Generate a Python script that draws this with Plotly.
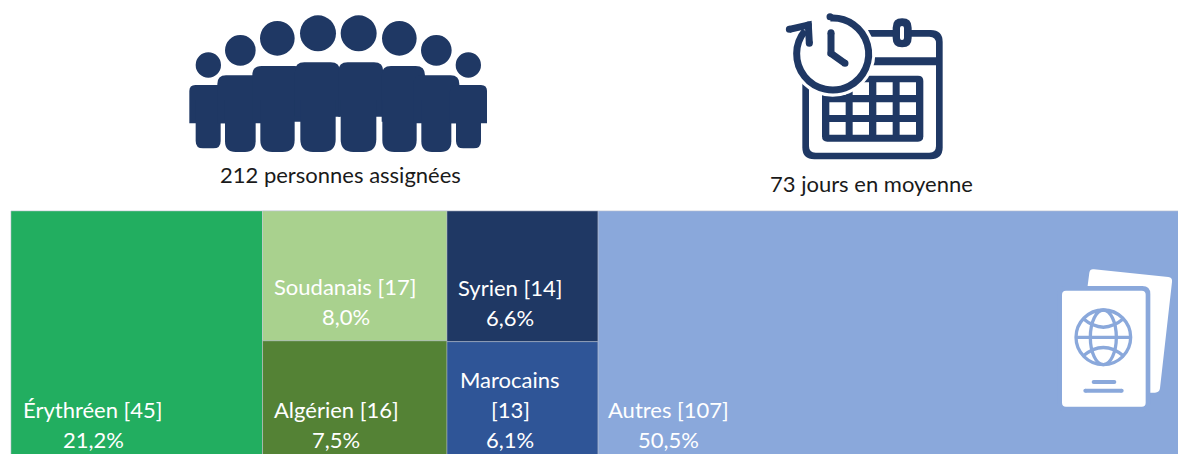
import math
import plotly.graph_objects as go

# ---- data ----
nationalities = ["Érythréen", "Soudanais", "Algérien", "Syrien", "Marocains", "Autres"]
counts = [45, 17, 16, 14, 13, 107]
percents = ["21,2%", "8,0%", "7,5%", "6,6%", "6,1%", "50,5%"]
colors = ["#22AE60", "#A9D18E", "#548235", "#1F3864", "#2F5597", "#8AA8DB"]
total_people = 212
mean_days = 73

NAVY = "#1F3864"
BLUE = "#8AA8DB"
W, H = 1196, 463      # the chart runs a little past the window, as in the reference
L, T = 11, 211

def X(px): return (px - L) / (W - L)
def Y(py): return (H - py) / (H - T)

# ---- treemap: columns are left to right; two columns hold a stacked pair ----
g1 = counts[1] + counts[2]
g2 = counts[3] + counts[4]
ids = ["root", nationalities[0], "g1", "g2", nationalities[5],
       nationalities[1], nationalities[2], nationalities[3], nationalities[4]]
tree_parents = ["", "root", "root", "root", "root", "g1", "g1", "g2", "g2"]
tree_values = [sum(counts), counts[0], g1, g2, counts[5], counts[1], counts[2], counts[3], counts[4]]
tree_colors = ["#FFFFFF", colors[0], "#FFFFFF", "#FFFFFF", colors[5], colors[1], colors[2], colors[3], colors[4]]

fig = go.Figure(go.Treemap(
    ids=ids,
    labels=[i if i in nationalities else "" for i in ids],
    parents=tree_parents,
    values=tree_values,
    branchvalues="total",
    sort=False,
    textinfo="none",
    hoverinfo="skip",
    marker=dict(colors=tree_colors,
                line=dict(color="rgba(190,198,210,0.45)", width=1),
                pad=dict(t=0, l=0, r=0, b=0)),
    tiling=dict(packing="slice-dice", pad=0),
    pathbar=dict(visible=False),
    root=dict(color="#FFFFFF"),
))

shapes = []

def P(x, y, ox, oy, s):
    return f"{X(ox + x / s):.5f} {Y(oy + y / s):.5f}"

def rrect(x0, y0, x1, y1, rt, rb, ox, oy, s=3):
    """rounded rectangle path in zoomed pixel coordinates"""
    p = lambda a, b: P(a, b, ox, oy, s)
    return (f"M{p(x0 + rt, y0)} L{p(x1 - rt, y0)} Q{p(x1, y0)} {p(x1, y0 + rt)} "
            f"L{p(x1, y1 - rb)} Q{p(x1, y1)} {p(x1 - rb, y1)} "
            f"L{p(x0 + rb, y1)} Q{p(x0, y1)} {p(x0, y1 - rb)} "
            f"L{p(x0, y0 + rt)} Q{p(x0, y0)} {p(x0 + rt, y0)} Z")

def fill(path, color):
    shapes.append(dict(type="path", xref="paper", yref="paper", path=path,
                       fillcolor=color, line=dict(width=0), layer="above"))

def ellipse(cx, cy, rx, ry, color, ox, oy, s=3, line=None, lw=0):
    shapes.append(dict(type="circle", xref="paper", yref="paper",
                       x0=X(ox + (cx - rx) / s), x1=X(ox + (cx + rx) / s),
                       y0=Y(oy + (cy - ry) / s), y1=Y(oy + (cy + ry) / s),
                       fillcolor=color,
                       line=dict(width=lw, color=line or "rgba(0,0,0,0)"), layer="above"))

def circle(cx, cy, r, color, ox, oy, s=3):
    ellipse(cx, cy, r, r, color, ox, oy, s)

def stroke(path, color, lw):
    shapes.append(dict(type="path", xref="paper", yref="paper", path=path,
                       line=dict(color=color, width=lw), layer="above"))

def poly(points, color, lw, ox, oy, s=3):
    """round capped polyline"""
    stroke("M" + " L".join(P(a, b, ox, oy, s) for a, b in points), color, lw)
    for a, b in points:
        circle(a, b, lw * s / 2, color, ox, oy, s)

def arc(cx, cy, r, a0, a1, color, lw, ox, oy, s=3, n=8):
    """circular arc from a0 to a1 (degrees, clockwise on screen) as cubic curves"""
    step = math.radians(a1 - a0) / n
    k = 4 / 3 * math.tan(step / 4)
    a = math.radians(a0)
    pts = f"M{P(cx + r * math.cos(a), cy + r * math.sin(a), ox, oy, s)}"
    for _ in range(n):
        b = a + step
        c1 = (cx + r * (math.cos(a) - k * math.sin(a)), cy + r * (math.sin(a) + k * math.cos(a)))
        c2 = (cx + r * (math.cos(b) + k * math.sin(b)), cy + r * (math.sin(b) - k * math.cos(b)))
        e = (cx + r * math.cos(b), cy + r * math.sin(b))
        pts += f" C{P(*c1, ox, oy, s)} {P(*c2, ox, oy, s)} {P(*e, ox, oy, s)}"
        a = b
    stroke(pts, color, lw)

# ---- people icon ----
ox, oy = 180, 0
for cx, cy, r in [(85, 195, 38), (181, 151, 46), (292, 115, 52), (414, 100, 54),
                  (536, 100, 54), (658, 115, 52), (769, 151, 46), (865, 195, 38)]:
    circle(cx, cy, r, NAVY, ox, oy)
for x0, y0, x1, y1, rt, rb in [
    (28, 255, 140, 370, 18, 0), (47, 300, 122, 445, 0, 22),
    (112, 226, 250, 370, 26, 0), (135, 300, 227, 456, 0, 32),
    (217, 198, 372, 365, 28, 0), (241, 300, 344, 456, 0, 36),
    (345, 187, 480, 350, 28, 0), (361, 300, 467, 456, 0, 38),
    (475, 187, 610, 350, 28, 0), (482, 300, 589, 456, 0, 38),
    (605, 198, 735, 365, 28, 0), (607, 300, 710, 456, 0, 36),
    (700, 226, 838, 370, 26, 0), (724, 300, 814, 456, 0, 32),
    (810, 255, 921, 370, 18, 0), (828, 300, 903, 445, 0, 22),
]:
    fill(rrect(x0, y0, x1, y1, rt, rb, ox, oy), NAVY)

# ---- calendar + clock icon ----
ox, oy = 760, 0
fill(rrect(127, 90, 548, 478, 36, 36, ox, oy), NAVY)
fill(rrect(147, 110, 528, 458, 20, 20, ox, oy), "#FFFFFF")
fill(rrect(147, 172, 528, 196, 0, 0, ox, oy), NAVY)
fill(rrect(186, 227, 490, 425, 16, 16, ox, oy), NAVY)
for cx0 in (208, 278, 349, 419):
    for cy0 in (247, 307, 366):
        fill(rrect(cx0, cy0, cx0 + 49, cy0 + 38, 0, 0, ox, oy), "#FFFFFF")
fill(rrect(398, 55, 455, 142, 28, 28, ox, oy), NAVY)
fill(rrect(420, 78, 432, 120, 6, 6, ox, oy), "#FFFFFF")
circle(218, 162, 128, "#FFFFFF", ox, oy)
arc(218, 162, 108, -94, 220, NAVY, 7, ox, oy)
circle(210, 50, 10.5, NAVY, ox, oy)
poly([(88, 88), (145, 75), (148, 130)], NAVY, 7, ox, oy)
poly([(213, 98), (213, 160), (255, 190)], NAVY, 7, ox, oy)

# ---- passport icon ----
ox, oy = 1040, 250
p = lambda a, b: P(a, b, ox, oy, 3)
fill(f"M{p(140, 130)} L{p(148, 68)} Q{p(150, 56)} {p(162, 58)} L{p(385, 81)} Q{p(398, 83)} {p(396, 96)} "
     f"L{p(360, 415)} Q{p(358, 428)} {p(345, 428)} L{p(320, 428)} L{p(320, 130)} Z", "#FFFFFF")
fill(rrect(52, 108, 331, 484, 24, 24, ox, oy), BLUE)
fill(rrect(66, 122, 317, 470, 12, 12, ox, oy), "#FFFFFF")
ellipse(190, 262, 82, 82, "rgba(0,0,0,0)", ox, oy, line=BLUE, lw=3.3)
ellipse(190, 262, 39, 82, "rgba(0,0,0,0)", ox, oy, line=BLUE, lw=3.3)
stroke(f"M{p(108, 262)} L{p(272, 262)}", BLUE, 3.3)
stroke(f"M{p(128, 205)} Q{p(190, 258)} {p(252, 205)}", BLUE, 3.3)
stroke(f"M{p(128, 319)} Q{p(190, 266)} {p(252, 319)}", BLUE, 3.3)
poly([(161, 396), (223, 396)], BLUE, 4, ox, oy)
poly([(136, 422), (245, 422)], BLUE, 4, ox, oy)

# ---- text ----
annotations = []
def txt(s, cx, cy, color="#FFFFFF", size=22):
    annotations.append(dict(text=s, x=X(cx), y=Y(cy - 1.5), xref="paper", yref="paper",
                            xanchor="center", yanchor="middle", showarrow=False,
                            font=dict(family="Lato", size=size, color=color)))

txt(f"{total_people} personnes assignées", 340, 176, "#1A1A1A")
txt(f"{mean_days} jours en moyenne", 871, 185, "#1A1A1A")

centres = [(93, 411), (345.5, 288), (336, 411), (510, 289), (510, 411), (668, 411)]
for name, n, pct, (cx, cy) in zip(nationalities, counts, percents, centres):
    if name == "Marocains":
        txt(name, cx, cy - 30)
        txt(f"[{n}]", cx, cy)
    else:
        txt(f"{name} [{n}]", cx, cy)
    txt(pct, cx, cy + 30)

fig.update_layout(
    width=W, height=H,
    margin=dict(l=L, t=T, r=0, b=0),
    paper_bgcolor="#FFFFFF",
    showlegend=False,
    shapes=shapes,
    annotations=annotations,
)

fig.write_html(
    "out.html",
    config={"displayModeBar": False},
    post_script="document.body.style.margin='0';document.documentElement.style.overflow='hidden';",
)
